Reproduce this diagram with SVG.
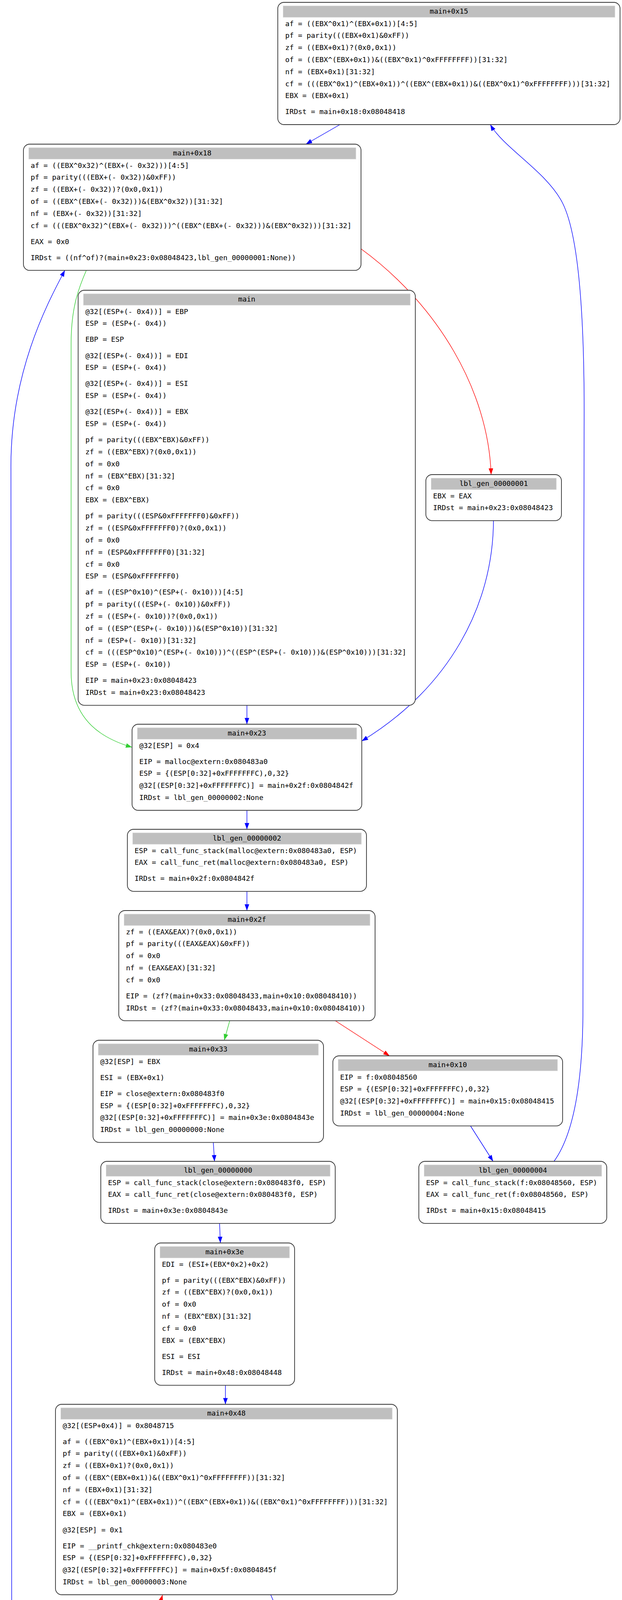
<svg xmlns="http://www.w3.org/2000/svg" width="1592" height="4867" viewBox="0 0 1592 4867">
<style>
.box{fill:#fff;stroke:#333;stroke-width:1.8}
.hdr{fill:#bfbfbf;stroke:#dedede;stroke-width:1}
text{font-family:"DejaVu Sans Mono","Liberation Mono",monospace;font-size:18.2px;fill:#000}
.h{text-anchor:middle}
.e{fill:none;stroke-width:1.4}
.b{stroke:#0000ff}
.r{stroke:#ff0000}
.g{stroke:#32cd32}
</style>
<defs>
<marker id="ab" markerUnits="userSpaceOnUse" markerWidth="16" markerHeight="12" viewBox="0 0 15 11" refX="15" refY="5.5" orient="auto"><path d="M0,0 L15,5.5 L0,11 z" fill="#0000ff"/></marker>
<marker id="ar" markerUnits="userSpaceOnUse" markerWidth="16" markerHeight="12" viewBox="0 0 15 11" refX="15" refY="5.5" orient="auto"><path d="M0,0 L15,5.5 L0,11 z" fill="#ff0000"/></marker>
<marker id="ag" markerUnits="userSpaceOnUse" markerWidth="16" markerHeight="12" viewBox="0 0 15 11" refX="15" refY="5.5" orient="auto"><path d="M0,0 L15,5.5 L0,11 z" fill="#32cd32"/></marker>
</defs>
<rect width="1592" height="4867" fill="#fff"/>
<g id="edges">
<path class="e b" d="M870 319 L783 369" marker-end="url(#ab)"/>
<path class="e r" d="M924 637 C1120 780 1250 1000 1257 1215" marker-end="url(#ar)"/>
<path class="e g" d="M221 692 C200 740 182 790 182 880 L182 1720 C182 1850 270 1893 338 1913" marker-end="url(#ag)"/>
<path class="e b" d="M632 1806 L632 1854" marker-end="url(#ab)"/>
<path class="e b" d="M1263 1333 C1262 1550 1150 1760 926 1897" marker-end="url(#ab)"/>
<path class="e b" d="M632 2075 L632 2123" marker-end="url(#ab)"/>
<path class="e b" d="M632 2282 L632 2331" marker-end="url(#ab)"/>
<path class="e g" d="M588 2613 L574 2663" marker-end="url(#ag)"/>
<path class="e r" d="M858 2613 L997 2703" marker-end="url(#ar)"/>
<path class="e b" d="M546 2925 L549 2973" marker-end="url(#ab)"/>
<path class="e b" d="M1204 2882 L1262 2973" marker-end="url(#ab)"/>
<path class="e b" d="M562 3132 L564 3182" marker-end="url(#ab)"/>
<path class="e b" d="M1418 2973 C1460 2915 1490 2800 1492 2600 L1495 1100 C1497 800 1480 600 1440 520 C1400 440 1290 380 1255 319" marker-end="url(#ab)"/>
<path class="e b" d="M577 3546 L577 3595" marker-end="url(#ab)"/>
<path class="e b" d="M693 4083 L714 4131" marker-end="url(#ab)"/>
<path class="e b" d="M697 4290 L663 4340" marker-end="url(#ab)"/>
<path class="e r" d="M424 4340 C400 4280 383 4240 386 4200 C388 4160 405 4120 416 4083" marker-end="url(#ar)"/>
<path class="e g" d="M428 4653 L390 4702" marker-end="url(#ag)"/>
<path class="e b" d="M171 4702 C120 4640 40 4500 30 4300 L28 1200 C26 950 125 770 166 692" marker-end="url(#ab)"/>
</g>
<g id="n_main_0x15">
<rect class="box" x="711" y="6" width="876" height="313" rx="16"/>
<rect class="hdr" x="724.5" y="15" width="849.5" height="29.3"/>
<text class="h" x="1149" y="34.5">main+0x15</text>
<text x="730" y="66.5">af = ((EBX^0x1)^(EBX+0x1))[4:5]</text>
<text x="730" y="97.3">pf = parity(((EBX+0x1)&amp;0xFF))</text>
<text x="730" y="128.1">zf = ((EBX+0x1)?(0x0,0x1))</text>
<text x="730" y="158.9">of = ((EBX^(EBX+0x1))&amp;((EBX^0x1)^0xFFFFFFFF))[31:32]</text>
<text x="730" y="189.7">nf = (EBX+0x1)[31:32]</text>
<text x="730" y="220.5">cf = (((EBX^0x1)^(EBX+0x1))^((EBX^(EBX+0x1))&amp;((EBX^0x1)^0xFFFFFFFF)))[31:32]</text>
<text x="730" y="251.3">EBX = (EBX+0x1)</text>
<text x="730" y="292.4">IRDst = main+0x18:0x08048418</text>
</g>
<g id="n_main_0x18">
<rect class="box" x="60" y="369" width="864" height="323.2" rx="16"/>
<rect class="hdr" x="73.5" y="378" width="837.5" height="29.3"/>
<text class="h" x="492" y="397.5">main+0x18</text>
<text x="78.5" y="429.5">af = ((EBX^0x32)^(EBX+(- 0x32)))[4:5]</text>
<text x="78.5" y="460.3">pf = parity(((EBX+(- 0x32))&amp;0xFF))</text>
<text x="78.5" y="491.1">zf = ((EBX+(- 0x32))?(0x0,0x1))</text>
<text x="78.5" y="521.9">of = ((EBX^(EBX+(- 0x32)))&amp;(EBX^0x32))[31:32]</text>
<text x="78.5" y="552.7">nf = (EBX+(- 0x32))[31:32]</text>
<text x="78.5" y="583.5">cf = (((EBX^0x32)^(EBX+(- 0x32)))^((EBX^(EBX+(- 0x32)))&amp;(EBX^0x32)))[31:32]</text>
<text x="78.5" y="624.6">EAX = 0x0</text>
<text x="78.5" y="665.7">IRDst = ((nf^of)?(main+0x23:0x08048423,lbl_gen_00000001:None))</text>
</g>
<g id="n_main">
<rect class="box" x="200" y="743" width="863" height="1062.6" rx="16"/>
<rect class="hdr" x="213.5" y="752" width="836.5" height="29.3"/>
<text class="h" x="631.5" y="771.5">main</text>
<text x="218.6" y="803.5">@32[(ESP+(- 0x4))] = EBP</text>
<text x="218.6" y="834.3">ESP = (ESP+(- 0x4))</text>
<text x="218.6" y="875.4">EBP = ESP</text>
<text x="218.6" y="916.5">@32[(ESP+(- 0x4))] = EDI</text>
<text x="218.6" y="947.3">ESP = (ESP+(- 0x4))</text>
<text x="218.6" y="988.4">@32[(ESP+(- 0x4))] = ESI</text>
<text x="218.6" y="1019.2">ESP = (ESP+(- 0x4))</text>
<text x="218.6" y="1060.3">@32[(ESP+(- 0x4))] = EBX</text>
<text x="218.6" y="1091.1">ESP = (ESP+(- 0x4))</text>
<text x="218.6" y="1132.2">pf = parity(((EBX^EBX)&amp;0xFF))</text>
<text x="218.6" y="1163">zf = ((EBX^EBX)?(0x0,0x1))</text>
<text x="218.6" y="1193.8">of = 0x0</text>
<text x="218.6" y="1224.6">nf = (EBX^EBX)[31:32]</text>
<text x="218.6" y="1255.4">cf = 0x0</text>
<text x="218.6" y="1286.2">EBX = (EBX^EBX)</text>
<text x="218.6" y="1327.3">pf = parity(((ESP&amp;0xFFFFFFF0)&amp;0xFF))</text>
<text x="218.6" y="1358.1">zf = ((ESP&amp;0xFFFFFFF0)?(0x0,0x1))</text>
<text x="218.6" y="1388.9">of = 0x0</text>
<text x="218.6" y="1419.7">nf = (ESP&amp;0xFFFFFFF0)[31:32]</text>
<text x="218.6" y="1450.5">cf = 0x0</text>
<text x="218.6" y="1481.3">ESP = (ESP&amp;0xFFFFFFF0)</text>
<text x="218.6" y="1522.4">af = ((ESP^0x10)^(ESP+(- 0x10)))[4:5]</text>
<text x="218.6" y="1553.2">pf = parity(((ESP+(- 0x10))&amp;0xFF))</text>
<text x="218.6" y="1584">zf = ((ESP+(- 0x10))?(0x0,0x1))</text>
<text x="218.6" y="1614.8">of = ((ESP^(ESP+(- 0x10)))&amp;(ESP^0x10))[31:32]</text>
<text x="218.6" y="1645.6">nf = (ESP+(- 0x10))[31:32]</text>
<text x="218.6" y="1676.4">cf = (((ESP^0x10)^(ESP+(- 0x10)))^((ESP^(ESP+(- 0x10)))&amp;(ESP^0x10)))[31:32]</text>
<text x="218.6" y="1707.2">ESP = (ESP+(- 0x10))</text>
<text x="218.6" y="1748.3">EIP = main+0x23:0x08048423</text>
<text x="218.6" y="1779.1">IRDst = main+0x23:0x08048423</text>
</g>
<g id="n_lbl_gen_00000001">
<rect class="box" x="1090" y="1215" width="347" height="117.8" rx="16"/>
<rect class="hdr" x="1103.5" y="1224" width="320.5" height="29.3"/>
<text class="h" x="1263.5" y="1243.5">lbl_gen_00000001</text>
<text x="1108.6" y="1275.5">EBX = EAX</text>
<text x="1108.6" y="1306.3">IRDst = main+0x23:0x08048423</text>
</g>
<g id="n_main_0x23">
<rect class="box" x="338" y="1854" width="588" height="220.5" rx="16"/>
<rect class="hdr" x="351.5" y="1863" width="561.5" height="29.3"/>
<text class="h" x="632" y="1882.5">main+0x23</text>
<text x="356.6" y="1914.5">@32[ESP] = 0x4</text>
<text x="356.6" y="1955.6">EIP = malloc@extern:0x080483a0</text>
<text x="356.6" y="1986.4">ESP = {(ESP[0:32]+0xFFFFFFFC),0,32}</text>
<text x="356.6" y="2017.2">@32[(ESP[0:32]+0xFFFFFFFC)] = main+0x2f:0x0804842f</text>
<text x="356.6" y="2048">IRDst = lbl_gen_00000002:None</text>
</g>
<g id="n_lbl_gen_00000002">
<rect class="box" x="326" y="2123" width="612" height="158.9" rx="16"/>
<rect class="hdr" x="339.5" y="2132" width="585.5" height="29.3"/>
<text class="h" x="632" y="2151.5">lbl_gen_00000002</text>
<text x="344.6" y="2183.5">ESP = call_func_stack(malloc@extern:0x080483a0, ESP)</text>
<text x="344.6" y="2214.3">EAX = call_func_ret(malloc@extern:0x080483a0, ESP)</text>
<text x="344.6" y="2255.4">IRDst = main+0x2f:0x0804842f</text>
</g>
<g id="n_main_0x2f">
<rect class="box" x="304" y="2331" width="656" height="282.1" rx="16"/>
<rect class="hdr" x="317.5" y="2340" width="629.5" height="29.3"/>
<text class="h" x="632" y="2359.5">main+0x2f</text>
<text x="322.6" y="2391.5">zf = ((EAX&amp;EAX)?(0x0,0x1))</text>
<text x="322.6" y="2422.3">pf = parity(((EAX&amp;EAX)&amp;0xFF))</text>
<text x="322.6" y="2453.1">of = 0x0</text>
<text x="322.6" y="2483.9">nf = (EAX&amp;EAX)[31:32]</text>
<text x="322.6" y="2514.7">cf = 0x0</text>
<text x="322.6" y="2555.8">EIP = (zf?(main+0x33:0x08048433,main+0x10:0x08048410))</text>
<text x="322.6" y="2586.6">IRDst = (zf?(main+0x33:0x08048433,main+0x10:0x08048410))</text>
</g>
<g id="n_main_0x33">
<rect class="box" x="238" y="2663" width="590" height="261.6" rx="16"/>
<rect class="hdr" x="251.5" y="2672" width="563.5" height="29.3"/>
<text class="h" x="533" y="2691.5">main+0x33</text>
<text x="256.6" y="2723.5">@32[ESP] = EBX</text>
<text x="256.6" y="2764.6">ESI = (EBX+0x1)</text>
<text x="256.6" y="2805.7">EIP = close@extern:0x080483f0</text>
<text x="256.6" y="2836.5">ESP = {(ESP[0:32]+0xFFFFFFFC),0,32}</text>
<text x="256.6" y="2867.3">@32[(ESP[0:32]+0xFFFFFFFC)] = main+0x3e:0x0804843e</text>
<text x="256.6" y="2898.1">IRDst = lbl_gen_00000000:None</text>
</g>
<g id="n_main_0x10">
<rect class="box" x="852" y="2703" width="588" height="179.4" rx="16"/>
<rect class="hdr" x="865.5" y="2712" width="561.5" height="29.3"/>
<text class="h" x="1146" y="2731.5">main+0x10</text>
<text x="870.6" y="2763.5">EIP = f:0x08048560</text>
<text x="870.6" y="2794.3">ESP = {(ESP[0:32]+0xFFFFFFFC),0,32}</text>
<text x="870.6" y="2825.1">@32[(ESP[0:32]+0xFFFFFFFC)] = main+0x15:0x08048415</text>
<text x="870.6" y="2855.9">IRDst = lbl_gen_00000004:None</text>
</g>
<g id="n_lbl_gen_00000000">
<rect class="box" x="258" y="2973" width="600" height="158.9" rx="16"/>
<rect class="hdr" x="271.5" y="2982" width="573.5" height="29.3"/>
<text class="h" x="558" y="3001.5">lbl_gen_00000000</text>
<text x="276.6" y="3033.5">ESP = call_func_stack(close@extern:0x080483f0, ESP)</text>
<text x="276.6" y="3064.3">EAX = call_func_ret(close@extern:0x080483f0, ESP)</text>
<text x="276.6" y="3105.4">IRDst = main+0x3e:0x0804843e</text>
</g>
<g id="n_lbl_gen_00000004">
<rect class="box" x="1072" y="2973" width="481" height="158.9" rx="16"/>
<rect class="hdr" x="1085.5" y="2982" width="454.5" height="29.3"/>
<text class="h" x="1312.5" y="3001.5">lbl_gen_00000004</text>
<text x="1090.6" y="3033.5">ESP = call_func_stack(f:0x08048560, ESP)</text>
<text x="1090.6" y="3064.3">EAX = call_func_ret(f:0x08048560, ESP)</text>
<text x="1090.6" y="3105.4">IRDst = main+0x15:0x08048415</text>
</g>
<g id="n_main_0x3e">
<rect class="box" x="396" y="3182" width="358" height="364.3" rx="16"/>
<rect class="hdr" x="409.5" y="3191" width="331.5" height="29.3"/>
<text class="h" x="575" y="3210.5">main+0x3e</text>
<text x="414.6" y="3242.5">EDI = (ESI+(EBX*0x2)+0x2)</text>
<text x="414.6" y="3283.6">pf = parity(((EBX^EBX)&amp;0xFF))</text>
<text x="414.6" y="3314.4">zf = ((EBX^EBX)?(0x0,0x1))</text>
<text x="414.6" y="3345.2">of = 0x0</text>
<text x="414.6" y="3376">nf = (EBX^EBX)[31:32]</text>
<text x="414.6" y="3406.8">cf = 0x0</text>
<text x="414.6" y="3437.6">EBX = (EBX^EBX)</text>
<text x="414.6" y="3478.7">ESI = ESI</text>
<text x="414.6" y="3519.8">IRDst = main+0x48:0x08048448</text>
</g>
<g id="n_main_0x48">
<rect class="box" x="142" y="3595" width="875" height="487.5" rx="16"/>
<rect class="hdr" x="155.5" y="3604" width="848.5" height="29.3"/>
<text class="h" x="579.5" y="3623.5">main+0x48</text>
<text x="160.6" y="3655.5">@32[(ESP+0x4)] = 0x8048715</text>
<text x="160.6" y="3696.6">af = ((EBX^0x1)^(EBX+0x1))[4:5]</text>
<text x="160.6" y="3727.4">pf = parity(((EBX+0x1)&amp;0xFF))</text>
<text x="160.6" y="3758.2">zf = ((EBX+0x1)?(0x0,0x1))</text>
<text x="160.6" y="3789">of = ((EBX^(EBX+0x1))&amp;((EBX^0x1)^0xFFFFFFFF))[31:32]</text>
<text x="160.6" y="3819.8">nf = (EBX+0x1)[31:32]</text>
<text x="160.6" y="3850.6">cf = (((EBX^0x1)^(EBX+0x1))^((EBX^(EBX+0x1))&amp;((EBX^0x1)^0xFFFFFFFF)))[31:32]</text>
<text x="160.6" y="3881.4">EBX = (EBX+0x1)</text>
<text x="160.6" y="3922.5">@32[ESP] = 0x1</text>
<text x="160.6" y="3963.6">EIP = __printf_chk@extern:0x080483e0</text>
<text x="160.6" y="3994.4">ESP = {(ESP[0:32]+0xFFFFFFFC),0,32}</text>
<text x="160.6" y="4025.2">@32[(ESP[0:32]+0xFFFFFFFC)] = main+0x5f:0x0804845f</text>
<text x="160.6" y="4056">IRDst = lbl_gen_00000003:None</text>
</g>
<g id="n_lbl_gen_00000003">
<rect class="box" x="415" y="4131" width="677" height="158.9" rx="16"/>
<rect class="hdr" x="428.5" y="4140" width="650.5" height="29.3"/>
<text class="h" x="753.5" y="4159.5">lbl_gen_00000003</text>
<text x="433.6" y="4191.5">ESP = call_func_stack(__printf_chk@extern:0x080483e0, ESP)</text>
<text x="433.6" y="4222.3">EAX = call_func_ret(__printf_chk@extern:0x080483e0, ESP)</text>
<text x="433.6" y="4263.4">IRDst = main+0x5f:0x0804845f</text>
</g>
<g id="n_main_0x5f">
<rect class="box" x="143" y="4340" width="818" height="312.9" rx="16"/>
<rect class="hdr" x="156.5" y="4349" width="791.5" height="29.3"/>
<text class="h" x="552" y="4368.5">main+0x5f</text>
<text x="161.6" y="4400.5">af = ((EBX^EDI)^(EBX+(- EDI)))[4:5]</text>
<text x="161.6" y="4431.3">pf = parity(((EBX+(- EDI))&amp;0xFF))</text>
<text x="161.6" y="4462.1">zf = ((EBX+(- EDI))?(0x0,0x1))</text>
<text x="161.6" y="4492.9">of = ((EBX^(EBX+(- EDI)))&amp;(EBX^EDI))[31:32]</text>
<text x="161.6" y="4523.7">nf = (EBX+(- EDI))[31:32]</text>
<text x="161.6" y="4554.5">cf = (((EBX^EDI)^(EBX+(- EDI)))^((EBX^(EBX+(- EDI)))&amp;(EBX^EDI)))[31:32]</text>
<text x="161.6" y="4595.6">EIP = (zf?(main+0x63:0x08048463,main+0x48:0x08048448))</text>
<text x="161.6" y="4626.4">IRDst = (zf?(main+0x63:0x08048463,main+0x48:0x08048448))</text>
</g>
<g id="n_main_0x63">
<rect class="box" x="154" y="4702" width="348" height="158.9" rx="16"/>
<rect class="hdr" x="167.5" y="4711" width="321.5" height="29.3"/>
<text class="h" x="328" y="4730.5">main+0x63</text>
<text x="172.6" y="4762.5">EBX = ESI</text>
<text x="172.6" y="4803.6">EIP = main+0x18:0x08048418</text>
<text x="172.6" y="4834.4">IRDst = main+0x18:0x08048418</text>
</g>
</svg>
